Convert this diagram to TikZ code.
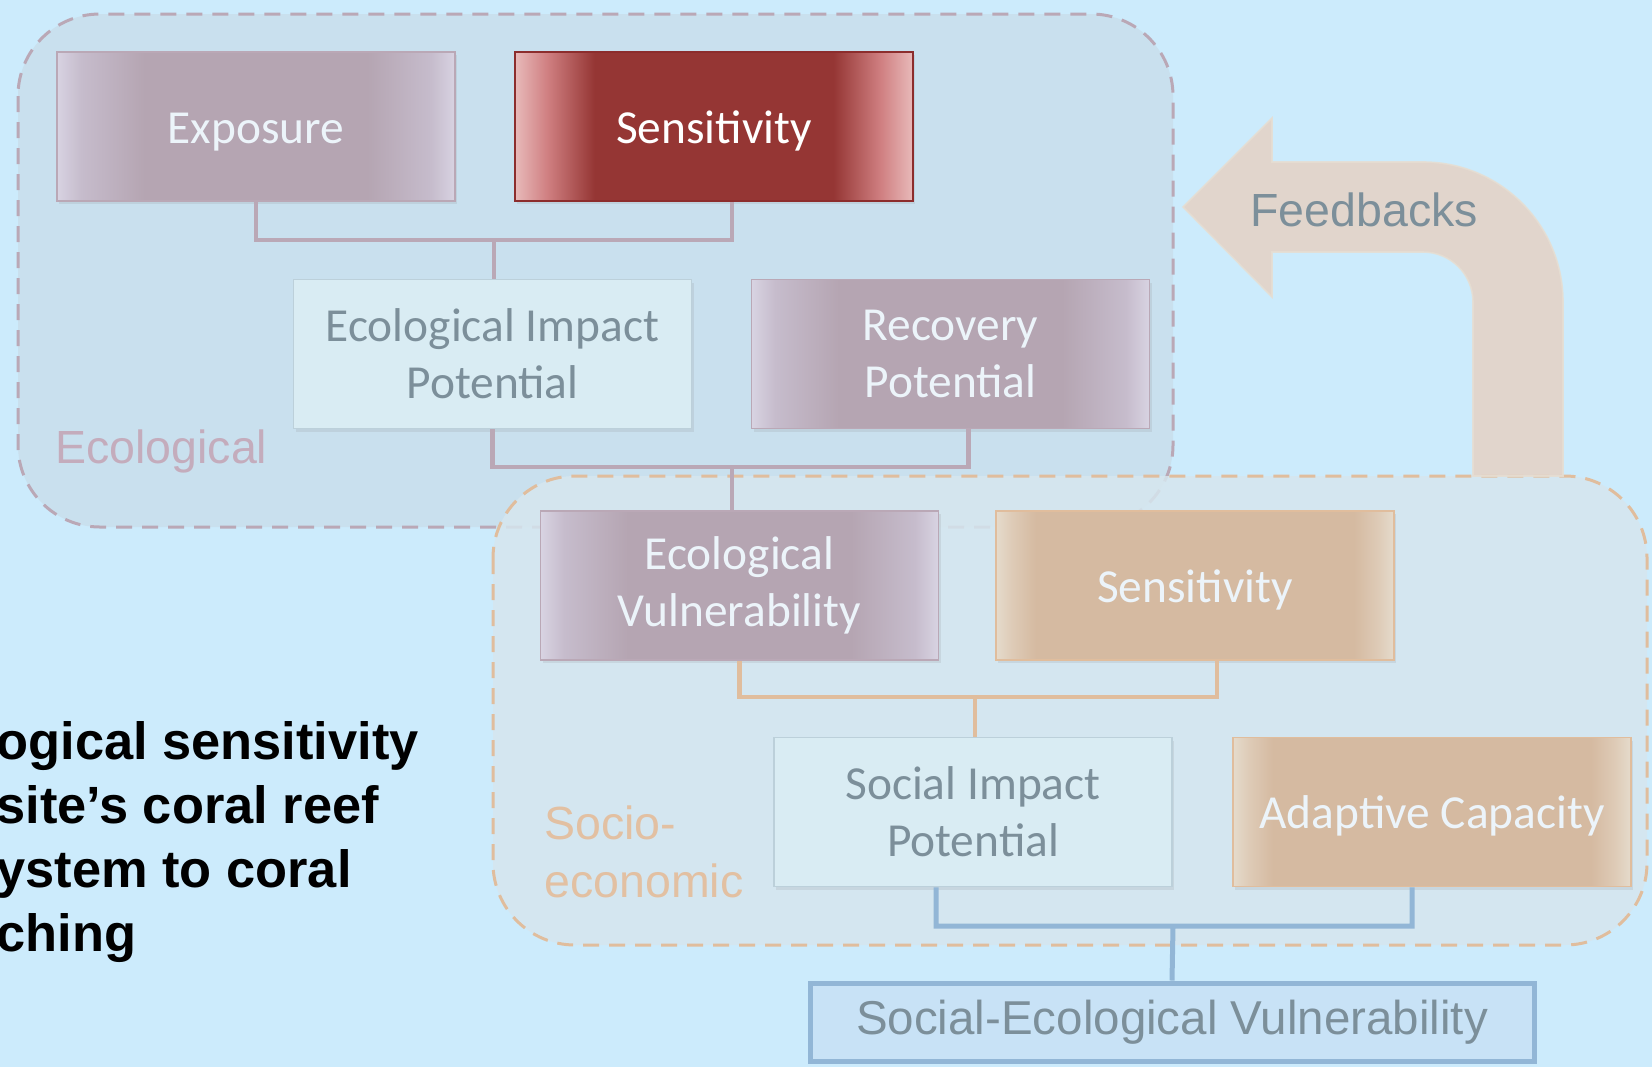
\documentclass[tikz,border=0pt]{standalone}
\usepackage{fontspec}
\setmainfont{Carlito}
\newfontfamily\arial{Liberation Sans}
\usetikzlibrary{shadows}

\definecolor{sky}{RGB}{204,235,252}
\definecolor{ecobg}{RGB}{201,224,238}
\definecolor{socbg}{RGB}{214,230,238}
\definecolor{mauve}{RGB}{181,165,178}
\definecolor{mauvemid}{RGB}{198,188,204}
\definecolor{mauveedge}{RGB}{216,211,226}
\definecolor{brick}{RGB}{149,54,52}
\definecolor{brickmid}{RGB}{208,128,130}
\definecolor{brickedge}{RGB}{232,186,186}
\definecolor{sand}{RGB}{213,186,161}
\definecolor{sandmid}{RGB}{222,203,183}
\definecolor{sandedge}{RGB}{229,219,204}
\definecolor{pale}{RGB}{217,236,243}
\definecolor{paleline}{RGB}{188,208,218}
\definecolor{slate}{RGB}{124,143,154}
\definecolor{snow}{RGB}{236,244,250}
\definecolor{mauveline}{RGB}{186,168,182}
\definecolor{brickline}{RGB}{140,45,45}
\definecolor{sandline}{RGB}{224,189,157}
\definecolor{blueline}{RGB}{146,182,214}
\definecolor{sevfill}{RGB}{200,226,246}
\definecolor{ecotext}{RGB}{196,172,188}
\definecolor{soctext}{RGB}{226,192,162}
\definecolor{fbk}{RGB}{229,210,196}

% light edges, solid middle (the middle half of the shading covers the box)
\pgfdeclarehorizontalshading{mauvefade}{100bp}{color(0bp)=(mauveedge); color(25bp)=(mauveedge);
  color(28bp)=(mauvemid); color(36bp)=(mauve); color(64bp)=(mauve); color(72bp)=(mauvemid);
  color(75bp)=(mauveedge); color(100bp)=(mauveedge)}
\pgfdeclarehorizontalshading{brickfade}{100bp}{color(0bp)=(brickedge); color(25bp)=(brickedge);
  color(29bp)=(brickmid); color(35bp)=(brick); color(65bp)=(brick); color(71bp)=(brickmid);
  color(75bp)=(brickedge); color(100bp)=(brickedge)}
\pgfdeclarehorizontalshading{sandfade}{100bp}{color(0bp)=(sandedge); color(25bp)=(sandedge);
  color(27bp)=(sandmid); color(30bp)=(sand); color(70bp)=(sand); color(73bp)=(sandmid);
  color(75bp)=(sandedge); color(100bp)=(sandedge)}

\begin{document}
\begin{tikzpicture}[x=0.5pt, y=-0.5pt,
    box/.style={minimum width=199pt, minimum height=74.5pt, inner sep=0pt, align=center,
      line width=0.8pt, font=\fontsize{23.7}{28.5}\selectfont,
      drop shadow={opacity=0.15, shadow xshift=1pt, shadow yshift=-1.5pt}},
    oneline/.style={text height=16.5pt, text depth=0pt},
    ecobox/.style={box, draw=mauveline, shading=mauvefade, text=snow},
    hotbox/.style={box, draw=brickline, shading=brickfade, text=white},
    sandbox/.style={box, draw=sandline, shading=sandfade, text=snow},
    palebox/.style={box, draw=paleline, fill=pale, text=slate},
    group/.style={line width=1.5pt, dash pattern=on 8pt off 5pt, rounded corners=41pt},
    grouplabel/.style={font=\arial\fontsize{23.25}{29}\selectfont, inner sep=0pt, align=left},
    link/.style={line width=2.2pt}]

\useasboundingbox (0,0) rectangle (1652,1067);
\fill[sky] (0,0) rectangle (1652,1067);

% the two frames
\draw[group, fill=ecobg, draw=mauveline] (18,14) rectangle (1173,527);
\draw[group, fill=socbg, fill opacity=0.85, draw=sandline] (493,476) rectangle (1647,945);

% feedback arrow
\filldraw[fbk, draw={rgb,255:red,230;green,222;blue,210}, line width=0.8pt, opacity=0.85]
  (1473,476) -- (1473,302) .. controls (1473,274.4) and (1450.6,252) .. (1423,252)
  -- (1272,252) -- (1272,297) -- (1183,207) -- (1272,118) -- (1272,162) -- (1423,162)
  .. controls (1500.3,162) and (1563,224.7) .. (1563,302) -- (1563,476) -- cycle;
\node[grouplabel, text=slate, anchor=base west] (fb) at (1250,226) {Feedbacks};

\node[grouplabel, text=ecotext, anchor=base west] (ecolab) at (55,463) {Ecological};
\node[grouplabel, text=soctext, anchor=base west] (soclab) at (544,897) {Socio-\\economic};

% ecological side
\node[ecobox, oneline] (expo) at (256,126.5) {Exposure};
\node[hotbox, oneline] (sens) at (714,126.5) {Sensitivity};
\node[palebox] (eip) at (492.5,354) {Ecological Impact\\Potential};
\node[ecobox] (reco) at (950.5,354) {Recovery\\Potential};

% socio-economic side
\node[ecobox] (ev) at (739.5,585.5) {Ecological\\Vulnerability};
\node[sandbox, oneline] (soc) at (1195,585.5) {Sensitivity};
\node[palebox] (sip) at (973,812) {Social Impact\\Potential};
\node[sandbox, oneline] (adap) at (1432,812) {Adaptive Capacity};

\node[draw=blueline, line width=2.5pt, fill=sevfill, text=slate, minimum width=362pt,
  minimum height=39pt, inner sep=0pt, font=\arial\fontsize{23.75}{29}\selectfont]
  (sev) at (1172,1022) {Social-Ecological Vulnerability};

% brackets
\coordinate (j1) at (494,240);
\coordinate (j2) at (732,467);
\coordinate (j3) at (975,697);
\coordinate (j4) at (1173,926);
\draw[link, mauveline] (expo.south) |- (j1) -| ([xshift=9pt]sens.south) (j1) -- (j1 |- eip.north);
\draw[link, mauveline] (eip.south) |- (j2) -| ([xshift=9pt]reco.south) (j2) -- (j2 |- ev.north);
\draw[link, sandline] (ev.south) |- (j3) -| ([xshift=11pt]soc.south) (j3) -- (j3 |- sip.north);
\draw[link, blueline, line width=2.5pt] ([xshift=-18.5pt]sip.south) |- (j4) -| ([xshift=-10pt]adap.south)
  (j4) -- (sev.north);

\node[font=\arial\bfseries\fontsize{26.2}{32}\selectfont, align=left, inner sep=0pt,
  anchor=base west] (note) at (-4,951)
  {ogical sensitivity\\site’s coral reef\\ystem to coral\\ching};
\end{tikzpicture}
\end{document}
